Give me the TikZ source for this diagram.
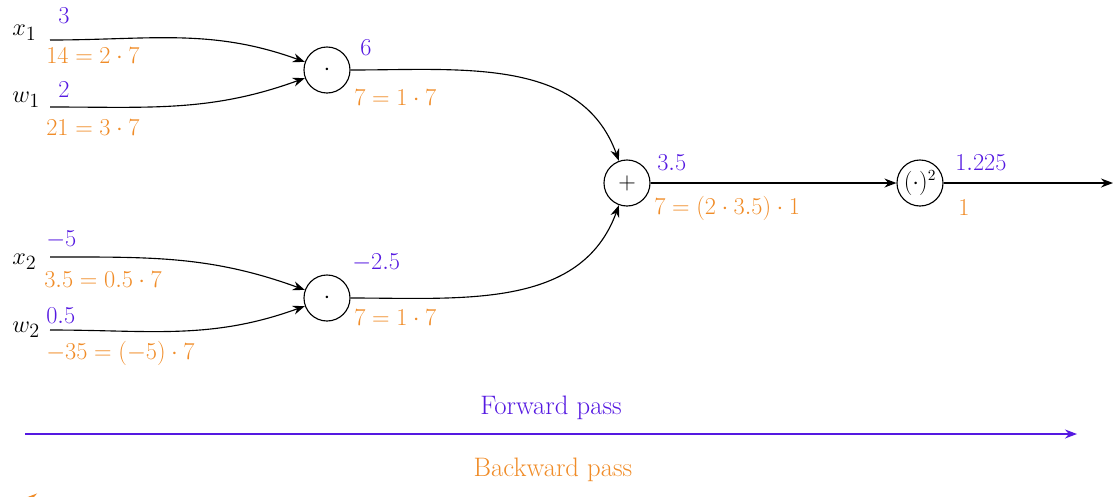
\documentclass[tikz,border=0pt]{standalone}
\usepackage{amsmath}
\usepackage{xcolor}
\usetikzlibrary{arrows.meta, positioning}
\definecolor{fwd}{RGB}{85,25,225}
\definecolor{bwd}{RGB}{240,140,40}
\begin{document}
\begin{tikzpicture}[
    x=0.025cm, y=-0.025cm,
    op/.style={circle, draw, thick, minimum size=1.15cm, inner sep=0pt, font=\fontsize{19}{22}\selectfont},
    lbl/.style={font=\fontsize{19}{22}\selectfont, inner sep=0pt, anchor=west},
    fval/.style={lbl, text=fwd},
    bval/.style={lbl, text=bwd},
    arrow/.style={-{Stealth[length=3mm]}, thick}
]
\useasboundingbox (0,0) rectangle (1113,496);

% operations
\node[op] (mul1) at (327,70) {$\cdot$};
\node[op] (mul2) at (327,298) {$\cdot$};
\node[op] (add) at (627,183) {$+$};
\node[op, font=\fontsize{16}{18}\selectfont] (sq) at (920,183) {$(\cdot)^2$};
\coordinate (out) at (1113,183);

% inputs
\coordinate (x1) at (50,40);
\coordinate (w1) at (50,107);
\coordinate (x2) at (50,257);
\coordinate (w2) at (50,330);
\node[lbl] at (12,33) {$x_1$};
\node[lbl] at (12,100) {$w_1$};
\node[lbl] at (12,262) {$x_2$};
\node[lbl] at (12,330) {$w_2$};

\draw[arrow] (x1) to[out=0, in=160] (mul1);
\draw[arrow] (w1) to[out=0, in=200] (mul1);
\draw[arrow] (x2) to[out=0, in=160] (mul2);
\draw[arrow] (w2) to[out=0, in=200] (mul2);
\draw[arrow] (mul1) to[out=0, in=110] (add);
\draw[arrow] (mul2) to[out=0, in=-110] (add);
\draw[arrow] (add) -- (sq);
\draw[arrow] (sq) -- (out);

% values
\node[fval] at (58,16) {$3$};
\node[bval] at (46,56) {$14=2\cdot 7$};
\node[fval] at (58,90) {$2$};
\node[bval] at (46,128) {$21=3\cdot 7$};
\node[fval] at (46,240) {$-5$};
\node[bval] at (44,280) {$3.5=0.5\cdot 7$};
\node[fval] at (46,316) {$0.5$};
\node[bval] at (46,353) {$-35=(-5)\cdot 7$};
\node[fval] at (360,48) {$6$};
\node[bval] at (354,98) {$7=1\cdot 7$};
\node[fval] at (352,263) {$-2.5$};
\node[bval] at (354,318) {$7=1\cdot 7$};
\node[fval] at (657,163) {$3.5$};
\node[bval] at (654,208) {$7=(2\cdot 3.5)\cdot 1$};
\node[fval] at (955,163) {$1.225$};
\node[bval] at (958,208) {$1$};

% passes
\coordinate (fa) at (25,434);
\coordinate (fb) at (1077,434);
\draw[arrow, fwd] (fa) -- node[fval, anchor=south, above=10pt] {Forward pass} (fb);
\coordinate (ba) at (1077,498);
\coordinate (bb) at (25,498);
\draw[arrow, bwd] (ba) -- (bb);
\node[bval, anchor=center] (bl) at (553,470) {Backward pass};
\end{tikzpicture}
\end{document}
